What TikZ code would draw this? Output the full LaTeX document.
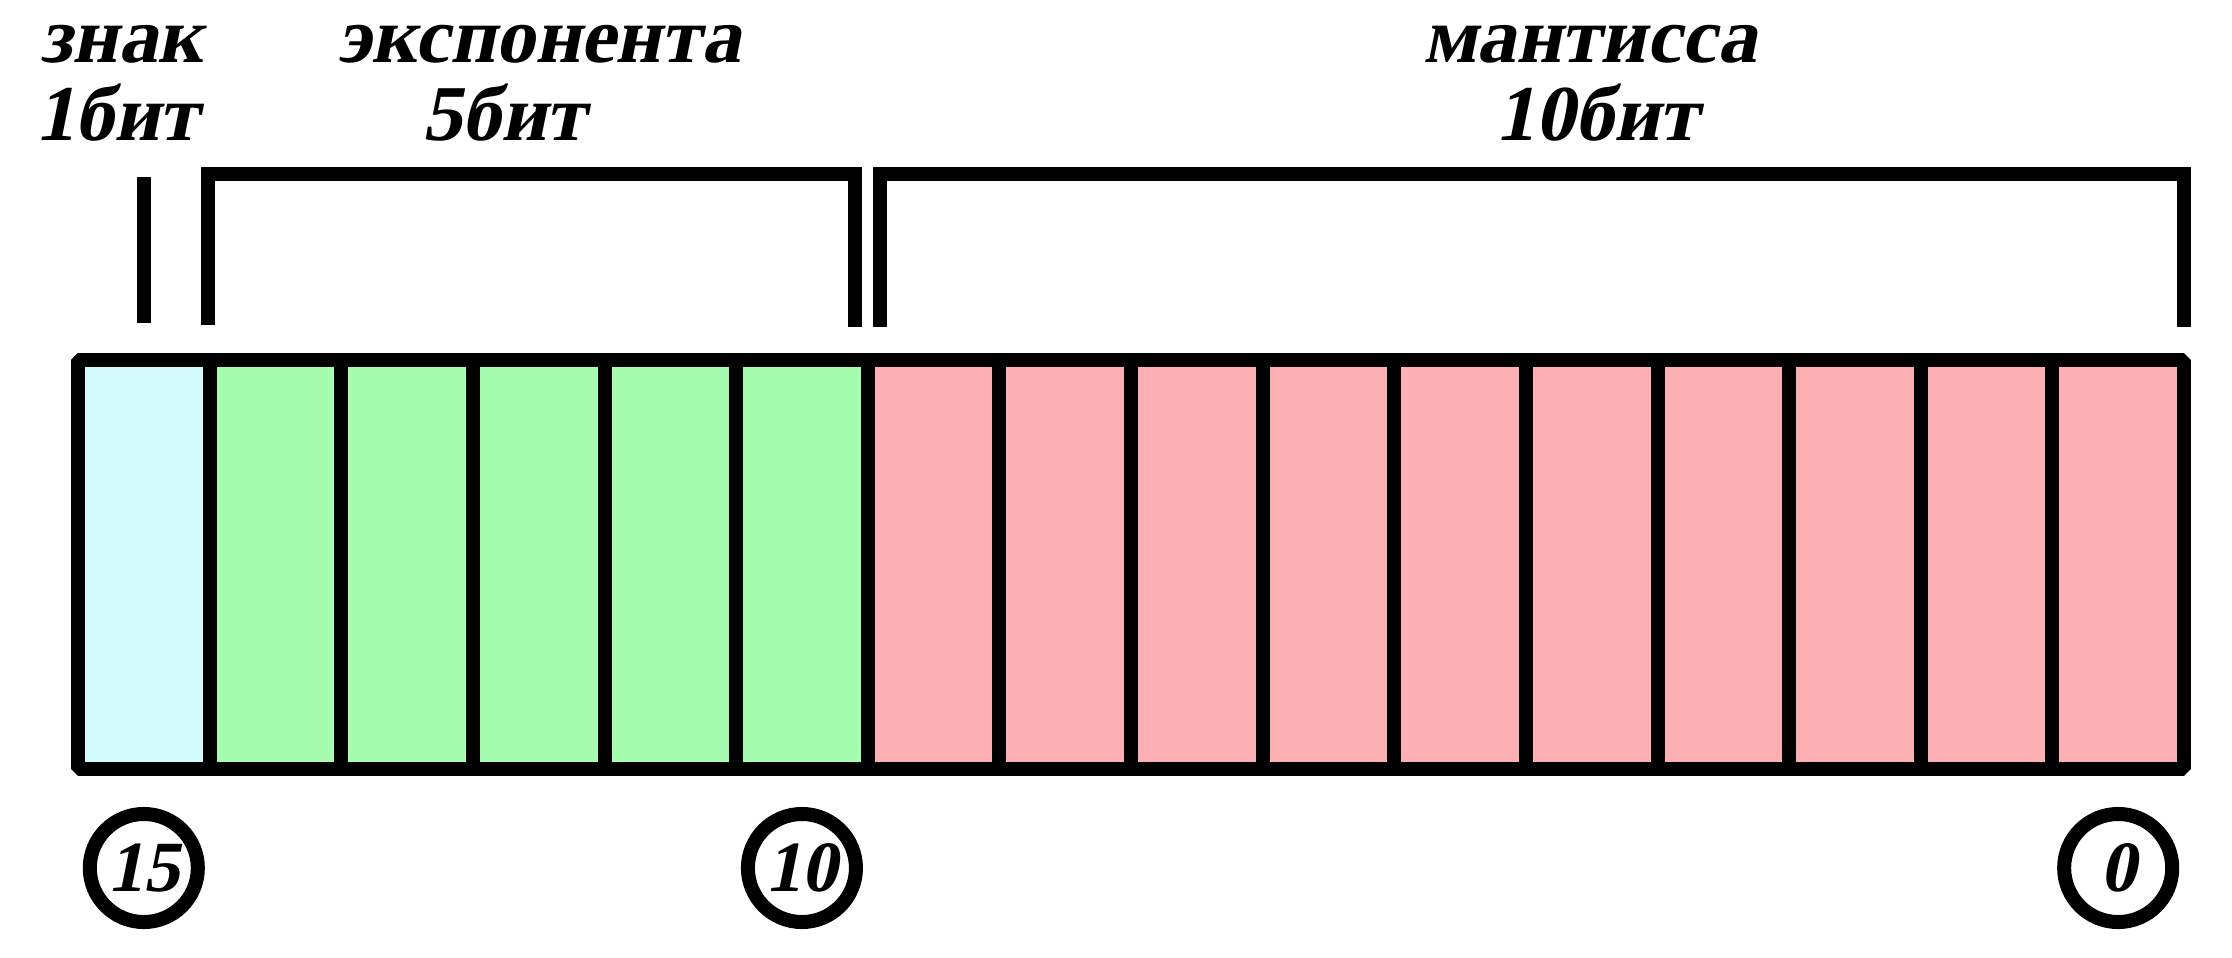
\documentclass[tikz,border=0pt]{standalone}
\usepackage{fontspec}
\setmainfont{Liberation Serif}
\newfontfamily\lblfont[FakeSlant=0.2]{Liberation Serif Bold}
\definecolor{signc}{RGB}{212,252,252}
\definecolor{expc}{RGB}{166,253,176}
\definecolor{manc}{RGB}{253,176,180}
\begin{document}
\begin{tikzpicture}[x=0.01cm,y=-0.01cm,
  lw/.style={line width=0.14cm},
  cell/.style={minimum width=1.31625cm, minimum height=4.09cm, inner sep=0, outer sep=0},
  lbl/.style={font=\fontsize{22.5}{26}\selectfont\lblfont, inner sep=0, anchor=base},
  bitnum/.style={circle, draw, line width=0.14cm, minimum size=1.08cm, inner sep=0,
    font=\fontsize{20.5}{24}\selectfont\lblfont}]
\useasboundingbox (0,0) rectangle (2232,957);
% cells
\foreach \i in {0,...,15}{
  \pgfmathsetmacro{\cx}{78+(\i+0.5)*131.625}
  \pgfmathtruncatemacro{\bit}{15-\i}
  \ifnum\i=0 \def\cc{signc}\else\ifnum\i<6 \def\cc{expc}\else\def\cc{manc}\fi\fi
  \node[cell, fill=\cc] (b\bit) at (\cx,564.5) {};
}
% dividers
\foreach \b in {15,...,1}{
  \draw[lw] (b\b.north east) -- (b\b.south east);
}
% outer frame
\draw[lw, line join=bevel] (b15.north west) rectangle (b0.south east);
% brackets
\coordinate (s1) at (144,177);
\coordinate (s2) at (144,323);
\draw[lw] (s1) -- (s2);
\coordinate (e1) at (208,325);
\coordinate (e2) at (208,174);
\coordinate (e3) at (855,174);
\coordinate (e4) at (855,327);
\draw[lw] (e1) -- (e2) -- (e3) -- (e4);
\coordinate (m1) at (880,327);
\coordinate (m2) at (880,174);
\coordinate (m3) at (2184,174);
\coordinate (m4) at (2184,327);
\draw[lw] (m1) -- (m2) -- (m3) -- (m4);
% labels
\node[lbl] (znak) at (122,62) {знак};
\node[lbl] (znakb) at (117,140) {1бит};
\node[lbl] (exp) at (539,62) {экспонента};
\node[lbl] (expb) at (504,140) {5бит};
\node[lbl] (man) at (1590,62) {мантисса};
\node[lbl] (manb) at (1597,140) {10бит};
% bit numbers
\node[bitnum] (n15) at (b15.center |- 0,868) {15};
\node[bitnum] (n10) at (b10.center |- 0,868) {10};
\node[bitnum] (n0) at (b0.center |- 0,868) {0};
\end{tikzpicture}
\end{document}
